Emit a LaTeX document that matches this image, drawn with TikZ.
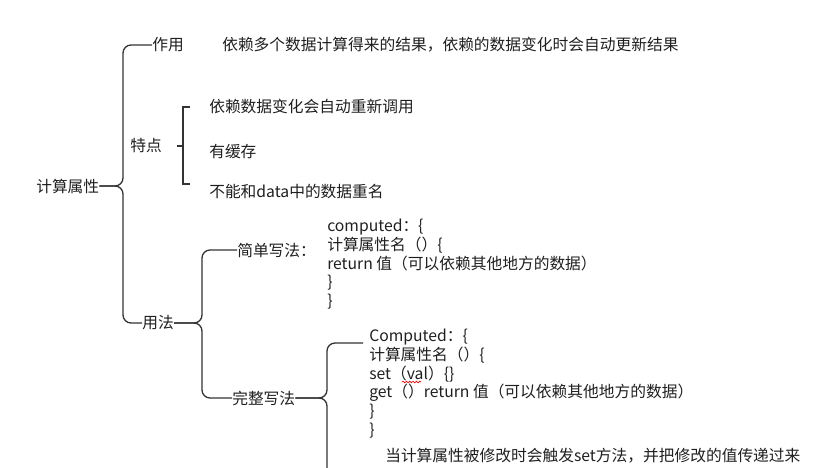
\documentclass[tikz,border=0pt]{standalone}
\usepackage{fontspec}
\newfontfamily\cjk{Noto Sans CJK SC}
\usetikzlibrary{decorations.pathmorphing}
\tikzset{
  txt/.style={anchor=west, inner sep=0pt, text=black!88, font=\cjk\fontsize{11.8}{14}\selectfont},
  code/.style={txt, anchor=north west, align=left},
  brace/.style={draw=black!80, line width=1pt, rounded corners=6pt},
}
\begin{document}
\begin{tikzpicture}[x=0.75pt, y=-0.75pt]
  \useasboundingbox (0,0) rectangle (815,468);
  % the root and its three branches
  \node[txt] (root) at (36,186) {计算属性};
  \node[txt] (zuoyong) at (152,45) {作用};
  \node[txt] (zuoyongtxt) at (222,45) {依赖多个数据计算得来的结果，依赖的数据变化时会自动更新结果};
  \node[txt] (tedian) at (130,146) {特点};
  \node[txt] (yongfa) at (142,323) {用法};
  \coordinate (sp1) at (123,0);
  \draw[brace] (root.east) -| (sp1 |- zuoyong.west) -- (zuoyong.west);
  \draw[brace] (root.east) -| (sp1 |- yongfa.west) -- (yongfa.west);
  % the bracket of the features
  \node[txt] (td1) at (209,106) {依赖数据变化会自动重新调用};
  \node[txt] (td2) at (209,152) {有缓存};
  \node[txt] (td3) at (209,192) {不能和data中的数据重名};
  \draw[draw=black!80, line width=1pt] (190,107) -- (183,107) -- (183,184) -- (190,184);
  \draw[draw=black!80, line width=1pt] (177,146) -- (183,146);
  % the two ways of writing it
  \node[txt] (jiandan) at (237,250) {简单写法：};
  \node[txt] (wanzheng) at (232,398) {完整写法};
  \coordinate (sp2) at (202,0);
  \draw[brace] (yongfa.east) -| (sp2 |- jiandan.west) -- (jiandan.west);
  \draw[brace] (yongfa.east) -| (sp2 |- wanzheng.west) -- (wanzheng.west);
  \node[code] (simple) at (327,219) {computed：\{\\
    计算属性名（）\{\\
    return 值（可以依赖其他地方的数据）\\
    \}\\
    \}};
  \node[code] (full) at (369,329) {Computed：\{\\
    计算属性名（）\{\\
    set（val）\{\}\\
    get（）return 值（可以依赖其他地方的数据）\\
    \}\\
    \}};
  \draw[red, line width=0.5pt, decorate, decoration={snake, amplitude=0.6pt, segment length=2.5pt}] (402,382) -- (421,382);
  \coordinate (sp3) at (327,0);
  \coordinate (fullin) at (363,343);
  \coordinate (fullout) at (327,472);
  \draw[brace] (wanzheng.east) -| (sp3 |- fullin) -- (fullin);
  \draw[brace] (wanzheng.east) -| (fullout);
  \node[txt] (setnote) at (385,456) {当计算属性被修改时会触发set方法，并把修改的值传递过来};
\end{tikzpicture}
\end{document}
